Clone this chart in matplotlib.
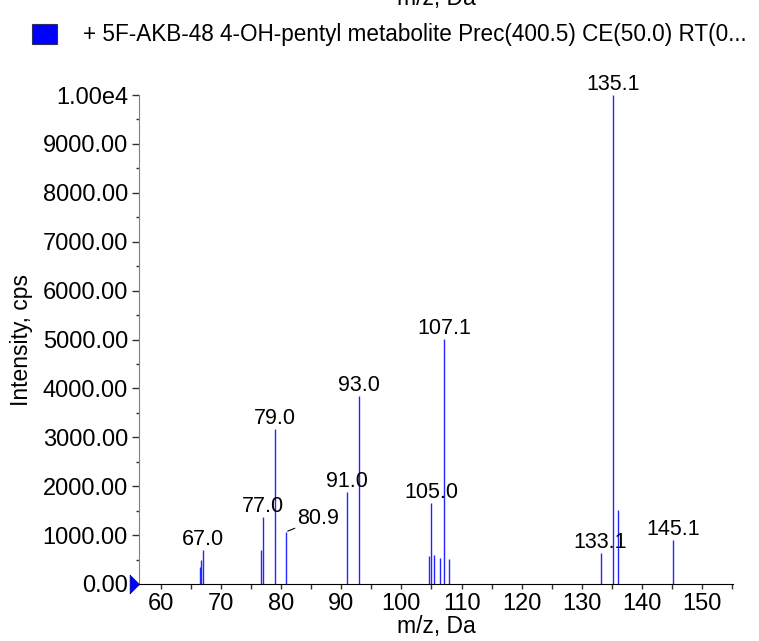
import matplotlib
matplotlib.use("Agg")
import matplotlib.pyplot as plt
from matplotlib.ticker import MultipleLocator, FuncFormatter

plt.rcParams['font.family'] = ['Liberation Sans', 'DejaVu Sans']

# ---- data ----
mz = [66.5, 66.75, 67.0, 76.6, 77.0, 79.0, 80.9, 91.0, 93.0,
      104.6, 105.0, 105.4, 106.4, 107.1, 107.9, 133.1, 135.1, 136.0, 145.1]
intensity = [350, 490, 690, 700, 1380, 3170, 1070, 1880, 3850,
             580, 1660, 600, 540, 5010, 510, 630, 10000, 1510, 910]
label_mz = [67.0, 77.0, 79.0, 80.9, 91.0, 93.0, 105.0, 107.1, 133.1, 135.1, 145.1]
label_text = ["67.0", "77.0", "79.0", "80.9", "91.0", "93.0",
              "105.0", "107.1", "133.1", "135.1", "145.1"]
x_ticks = [60, 70, 80, 90, 100, 110, 120, 130, 140, 150]
legend_text = "+ 5F-AKB-48 4-OH-pentyl metabolite Prec(400.5) CE(50.0) RT(0..."
x_label = "m/z, Da"
y_label = "Intensity, cps"

W, H = 759, 641
fig = plt.figure(figsize=(W / 100, H / 100), dpi=100)
L, R, B, T = 139, 733, 584, 95
ax = fig.add_axes([L / W, 1 - B / H, (R - L) / W, (B - T) / H])

ax.vlines(mz, 0, intensity, colors='#2525ff', linewidth=1.0)

xmin, xmax = 56.4, 155.1
ax.set_xlim(xmin, xmax)
ax.set_ylim(0, 10000)

for spn in ['top', 'right']:
    ax.spines[spn].set_visible(False)
ax.spines['left'].set_color('#808080')
ax.spines['bottom'].set_color('black')

ax.set_xticks(x_ticks)
ax.xaxis.set_minor_locator(MultipleLocator(5))
ax.yaxis.set_major_locator(MultipleLocator(1000))
ax.yaxis.set_minor_locator(MultipleLocator(500))

def yfmt(v, pos):
    if v >= 10000:
        return "1.00e4"
    return "%.2f" % v
ax.yaxis.set_major_formatter(FuncFormatter(yfmt))

ax.tick_params(axis='y', which='major', labelsize=17, length=5, width=1, color='#303030', pad=3)
ax.tick_params(axis='y', which='minor', length=2.5, width=1, color='#303030')
ax.tick_params(axis='x', which='major', labelsize=17, length=3.5, width=1, color='#303030', pad=3)
ax.tick_params(axis='x', which='minor', length=3.5, width=1, color='#303030')

ax.set_xlabel(x_label, fontsize=16.5, labelpad=0)
ax.set_ylabel(y_label, fontsize=16.5, labelpad=7)

# peak labels
for m, t in zip(label_mz, label_text):
    h = intensity[mz.index(m)]
    if t == "80.9":
        ax.annotate(t, xy=(m, h), xytext=(8, 2), textcoords='offset points',
                    ha='left', va='bottom', fontsize=15.5,
                    arrowprops=dict(arrowstyle='-', color='black', lw=0.8,
                                    shrinkA=0, shrinkB=1))
    else:
        ax.annotate(t, xy=(m, h), xytext=(0, 3.5), textcoords='offset points',
                    ha='center', va='baseline', fontsize=15.5)

# origin marker
ax.plot([xmin], [0], marker=[(-1, -1), (0, 0), (-1, 1), (-1, -1)],
        markersize=13.5, color='#0000ff', markeredgecolor='#000080',
        markeredgewidth=0.5, clip_on=False, zorder=5)

# legend (top): text from x~83 to x~748
renderer = fig.canvas.get_renderer()
probe = fig.text(0, 0, legend_text, fontsize=16)
wpx = probe.get_window_extent(renderer).width
probe.remove()
x0, x1 = 83, 748
fs = 16 * (x1 - x0) / wpx
ycen = 1 - 34 / H
fig.text(x0 / W, ycen, legend_text, fontsize=fs, va='center', ha='left')
fig.patches.append(plt.Rectangle((32 / W, ycen - 9.5 / H), 25 / W, 19 / H,
                                 transform=fig.transFigure, facecolor='#0000ff',
                                 edgecolor='#303060', linewidth=0.8))

# clipped label at top
fig.text((L + R) / 2 / W, 1 - 5 / H, x_label, fontsize=16.5, ha='center', va='baseline')

fig.savefig("out.png", dpi=100)
